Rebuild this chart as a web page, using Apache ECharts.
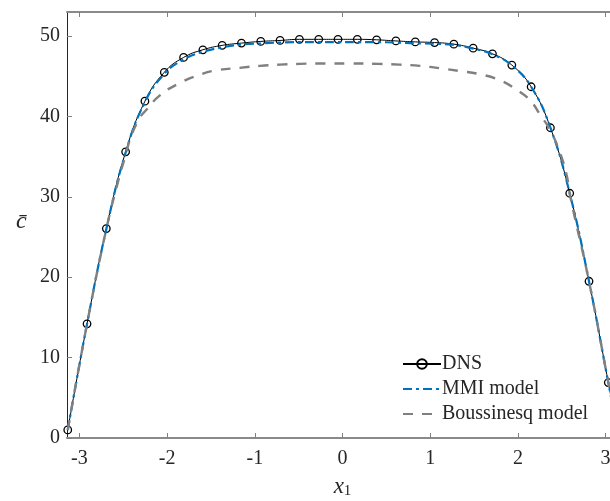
<!DOCTYPE html>
<html>
<head>
<meta charset="utf-8">
<script src="https://cdn.jsdelivr.net/npm/echarts@6/dist/echarts.min.js"></script>
<style>
html,body{margin:0;padding:0;background:#fff;}
#chart{width:610px;height:501px;}
</style>
</head>
<body>
<div id="chart"></div>
<script>
// ---- data ----
const xTicks = [-3, -2, -1, 0, 1, 2, 3];
const yTicks = [0, 10, 20, 30, 40, 50];
const xMin = -3.1416, xMax = 3.1416;
const yMin = 0, yMax = 53;

const xDNS = [-3.133, -2.913, -2.693, -2.473, -2.253, -2.032, -1.812, -1.592, -1.372, -1.152,
              -0.932, -0.712, -0.491, -0.271, -0.051, 0.169, 0.389, 0.609, 0.830, 1.050,
              1.270, 1.490, 1.710, 1.931, 2.151, 2.371, 2.591, 2.811, 3.031];
const yDNS = [1.0, 14.2, 26.05, 35.6, 41.9, 45.5, 47.35, 48.3, 48.85, 49.13,
              49.34, 49.46, 49.6, 49.6, 49.6, 49.6, 49.54, 49.4, 49.28, 49.2,
              49.0, 48.5, 47.8, 46.4, 43.7, 38.6, 30.45, 19.5, 6.9];
const yMMI = [1.0, 14.2, 26.0, 35.5, 41.8, 45.3, 47.1, 48.05, 48.6, 48.95,
              49.1, 49.2, 49.25, 49.25, 49.25, 49.25, 49.25, 49.2, 49.1, 49.05,
              48.9, 48.45, 47.75, 46.35, 43.7, 38.6, 30.45, 19.5, 6.9];
const xEdge = 3.1416;
const dnsEdge = 0.6;
const mmiEdge = 0.6;

const xBous = [-3.133, -2.913, -2.693, -2.55, -2.473, -2.409, -2.302, -2.238, -2.086, -1.857,
               -1.629, -1.438, -1.172, -0.943, -0.715, -0.487, -0.2, 0.1, 0.4, 0.65,
               0.884, 1.113, 1.341, 1.570, 1.798, 1.989, 2.141, 2.255, 2.369, 2.483,
               2.560, 2.598, 2.811, 3.031, 3.1416];
const yBous = [1.0, 14.2, 26.0, 32.3, 35.2, 37.6, 40.0, 40.8, 42.6, 44.15,
               45.2, 45.75, 46.05, 46.3, 46.45, 46.55, 46.6, 46.6, 46.55, 46.45,
               46.3, 46.0, 45.65, 45.25, 44.5, 43.3, 42.0, 40.2, 38.3, 35.4,
               32.5, 30.0, 19.5, 6.9, 0.6];

const seriesNames = ['DNS', 'MMI model', 'Boussinesq model'];

// ---- chart ----
const FONT = 'Liberation Serif';
const TXT = '#262626';
const dnsData = xDNS.map((x, i) => [x, yDNS[i]]);
dnsData.push({ value: [xEdge, dnsEdge], symbol: 'none' });
const mmiData = xDNS.map((x, i) => [x, yMMI[i]]);
mmiData.push([xEdge, mmiEdge]);
const bousData = xBous.map((x, i) => [x, yBous[i]]);

const chart = echarts.init(document.getElementById('chart'), null, { renderer: 'canvas' });
const axisCommon = {
  type: 'value', min: xMin, max: xMax,
  splitLine: { show: false }
};
chart.setOption({
  animation: false,
  backgroundColor: '#fff',
  grid: { left: 67, width: 551, top: 12, height: 426, containLabel: false, outerBoundsMode: 'none' },
  xAxis: [
    Object.assign({}, axisCommon, {
      position: 'bottom',
      axisLine: { show: true, onZero: false, lineStyle: { color: '#8a8a8a', width: 2 } },
      axisTick: { show: true, inside: true, length: 5, customValues: xTicks, lineStyle: { color: '#808080', width: 1 } },
      axisLabel: { show: true, customValues: xTicks, margin: 11, fontFamily: FONT, fontSize: 20, color: TXT,
                   formatter: v => String(v) },
      name: '{x|x}{s|1}',
      nameLocation: 'middle',
      nameGap: 37,
      nameTextStyle: {
        rich: {
          x: { fontFamily: FONT, fontStyle: 'italic', fontSize: 23, color: TXT, lineHeight: 24 },
          s: { fontFamily: FONT, fontSize: 15, color: TXT, lineHeight: 14, verticalAlign: 'bottom' }
        }
      }
    }),
    Object.assign({}, axisCommon, {
      position: 'top',
      axisLine: { show: true, onZero: false, lineStyle: { color: '#8a8a8a', width: 2 } },
      axisTick: { show: true, inside: true, length: 5, customValues: xTicks, lineStyle: { color: '#808080', width: 1 } },
      axisLabel: { show: false }
    })
  ],
  yAxis: [
    {
      type: 'value', min: yMin, max: yMax, position: 'left',
      splitLine: { show: false },
      axisLine: { show: true, onZero: false, lineStyle: { color: '#262626', width: 1 } },
      axisTick: { show: true, inside: true, length: 5, customValues: yTicks, lineStyle: { color: '#808080', width: 1 } },
      axisLabel: { show: true, customValues: yTicks, margin: 7, fontFamily: FONT, fontSize: 20, color: TXT }
    },
    {
      type: 'value', min: yMin, max: yMax, position: 'right',
      splitLine: { show: false },
      axisLine: { show: true, onZero: false, lineStyle: { color: '#262626', width: 1 } },
      axisTick: { show: true, inside: true, length: 5, customValues: yTicks },
      axisLabel: { show: false }
    }
  ],
  legend: {
    orient: 'vertical',
    left: 397, top: 349,
    itemWidth: 38, itemHeight: 12, itemGap: 5,
    data: [
      { name: seriesNames[0] },
      { name: seriesNames[1], itemStyle: { opacity: 0 } },
      { name: seriesNames[2], itemStyle: { opacity: 0 } }
    ],
    textStyle: { fontFamily: FONT, fontSize: 20, color: TXT, lineHeight: 20, padding: [0, 0, 0, -4] }
  },
  graphic: [{
    type: 'text', left: 16, top: 210,
    style: { text: 'c\u0304', font: 'italic 24px "Liberation Serif"', fill: TXT }
  }],
  series: [
    {
      name: seriesNames[0], type: 'line', data: dnsData,
      smooth: 0.45,
      symbol: 'circle', symbolSize: 7.5,
      itemStyle: { color: 'rgba(0,0,0,0)', borderColor: '#000', borderWidth: 1.3 },
      lineStyle: { color: '#000', width: 1 },
      z: 2
    },
    {
      name: seriesNames[1], type: 'line', data: mmiData,
      smooth: 0.45, showSymbol: false, symbol: 'none',
      itemStyle: { color: '#0072BD' },
      lineStyle: { color: '#0072BD', width: 2.2, type: [9, 4, 3, 4] },
      z: 3
    },
    {
      name: seriesNames[2], type: 'line', data: bousData,
      smooth: 0.45, showSymbol: false, symbol: 'none',
      itemStyle: { color: '#808080' },
      lineStyle: { color: '#808080', width: 2.4, type: [10, 9] },
      z: 4
    }
  ]
});
</script>
</body>
</html>
